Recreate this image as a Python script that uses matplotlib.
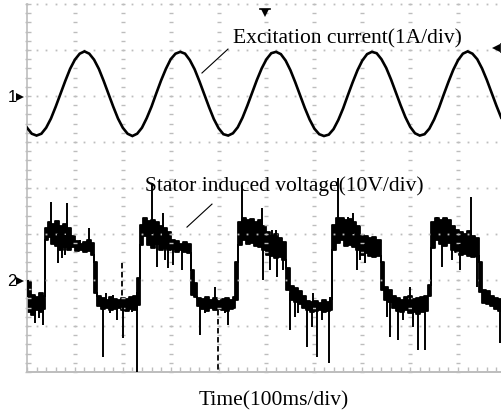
import numpy as np
import matplotlib
matplotlib.use("Agg")
import matplotlib.pyplot as plt

# ---------------- scope settings ----------------
ms_per_div = 100          # time base
n_hdiv, n_vdiv = 10, 8
ch1_ground = 2.0          # channel 1 reference level (div)
ch2_ground = -2.0         # channel 2 reference level (div)
ch1_scale = 1.0           # A/div
ch2_scale = 10.0          # V/div
t_view = 991.7            # visible part of the record (ms)

# ---------------- channel 1: excitation current (A), 10 ms samples ----------------
ch1_t = np.arange(0, 1000, 10)
ch1_current = [
    -0.69, -0.82,
    -0.86, -0.82, -0.69, -0.49, -0.23, 0.05, 0.33, 0.59, 0.79, 0.92,
    0.97, 0.92, 0.79, 0.59, 0.33, 0.05, -0.23, -0.49, -0.69, -0.82,
    -0.87, -0.82, -0.69, -0.48, -0.23, 0.06, 0.34, 0.59, 0.80, 0.92,
    0.96, 0.92, 0.78, 0.58, 0.32, 0.04, -0.24, -0.50, -0.70, -0.83,
    -0.86, -0.81, -0.68, -0.47, -0.21, 0.07, 0.35, 0.60, 0.80, 0.93,
    0.96, 0.91, 0.77, 0.56, 0.30, 0.02, -0.26, -0.51, -0.71, -0.83,
    -0.87, -0.84, -0.72, -0.52, -0.27, 0.02, 0.30, 0.56, 0.77, 0.91,
    0.96, 0.93, 0.80, 0.61, 0.36, 0.08, -0.20, -0.46, -0.67, -0.81,
    -0.86, -0.83, -0.71, -0.51, -0.26, 0.03, 0.31, 0.57, 0.78, 0.92,
    0.97, 0.92, 0.80, 0.60, 0.35, 0.07, -0.21, -0.47,
]

# ---------------- channel 2: stator induced voltage (V) ----------------
# upper / lower edge of the noisy trace (ms, V)
ch2_t = [
    0, 8, 17, 25, 33,
    38, 44, 50, 58, 67, 75, 84, 92, 100, 109, 117, 125, 134,
    140, 146, 154, 163, 171, 180, 188, 196, 205, 213, 221,
    230, 236, 242, 251, 259, 267, 276, 284, 292, 301, 309, 317, 326, 334,
    342, 349, 355, 363, 372, 380, 388, 397, 405, 413, 422, 430,
    434, 441, 449, 457, 466, 474, 482, 491, 499, 507, 516, 524, 532,
    541, 549, 557, 566, 574, 582, 591, 599, 608, 616, 624, 633,
    637, 645, 653, 662, 670, 679, 687, 695, 704, 712, 720, 729,
    739, 745, 754, 762, 770, 779, 787, 795, 804, 812, 820, 829, 837,
    843, 852, 860, 868, 877, 885, 894, 902, 910, 919, 927, 935,
    944, 950, 958, 967, 975, 983, 992,
]
ch2_hi = [
    -0.4, -3.3, -3.7, -2.8, -3.5,
    11.3, 12.6, 12.2, 12.8, 11.7, 12.2, 11.3, 9.6, 8.5, 7.8, 8.3, 8.7, 8.0,
    3.9, -3.5, -3.9, -4.3, -3.7, -4.1, -4.3, -3.9, -4.1, -3.7, -3.5,
    0.4, 12.0, 13.5, 12.8, 13.0, 12.6, 11.7, 11.3, 10.4, 8.7, 8.5, 7.8, 8.3, 7.8,
    2.2, -0.7, -3.9, -4.1, -3.7, -4.3, -3.9, -4.6, -4.1, -3.9, -4.3, -3.7,
    3.9, 12.6, 13.5, 13.0, 13.3, 12.6, 13.0, 11.7, 10.4, 9.6, 10.0, 9.1, 8.3,
    2.6, -1.3, -1.7, -2.4, -3.5, -4.6, -4.8, -4.6, -5.0, -4.3, -4.8, -4.1,
    12.0, 13.5, 13.5, 13.0, 13.3, 12.6, 11.7, 9.8, 9.6, 9.1, 9.3, 8.7,
    3.9, -1.5, -2.2, -3.5, -3.9, -4.3, -3.7, -3.5, -4.1, -3.9, -3.7, -3.5, -1.1,
    12.6, 13.5, 13.0, 13.5, 13.0, 11.7, 10.9, 10.4, 10.0, 10.7, 9.6, 9.1,
    3.9, -2.2, -2.4, -3.5, -3.9, -4.1, -4.1,
]
ch2_lo = [
    -7.0, -7.6, -6.5, -7.0, -6.3,
    8.7, 9.3, 7.8, 7.4, 6.5, 7.2, 6.5, 7.2, 6.3, 6.5, 6.1, 6.3, 5.4,
    -2.8, -5.7, -6.3, -6.1, -6.5, -6.3, -6.1, -6.5, -6.7, -6.3, -6.5,
    -5.4, 7.6, 9.6, 7.6, 7.0, 7.8, 6.5, 7.0, 6.5, 6.7, 6.1, 6.5, 6.1, 5.9,
    -3.3, -3.7, -5.7, -6.3, -6.7, -6.1, -6.5, -6.3, -6.5, -6.7, -6.3, -6.1,
    -4.3, 7.6, 8.7, 7.8, 8.0, 7.4, 7.2, 6.5, 5.4, 5.2, 4.8, 5.0, 4.3,
    -2.2, -4.3, -4.8, -5.2, -6.1, -6.5, -7.0, -6.7, -6.5, -7.0, -6.7, -6.5,
    6.5, 8.0, 8.7, 7.4, 7.6, 7.2, 6.5, 5.4, 5.9, 5.2, 5.0, 5.2,
    -2.2, -4.3, -4.8, -6.1, -6.7, -7.0, -6.5, -7.2, -7.0, -7.4, -7.0, -6.7, -3.5,
    7.0, 8.7, 7.8, 7.4, 8.0, 6.5, 6.1, 5.4, 5.7, 5.2, 5.0, 5.2,
    -2.6, -5.0, -5.2, -5.7, -6.3, -6.7, -6.7,
]

# individual glitches: time (ms) and the voltage each one reaches
spike_t = [2, 17, 25, 33, 50, 84, 65, 73, 79, 129, 111, 159, 173, 188, 200, 219, 230, 165, 180,
           261, 284, 271, 289, 294, 305, 324, 361, 372, 393, 420, 413,
           449, 491, 493, 507, 522, 535, 512, 520, 549, 560, 566, 576, 585, 595, 605, 616, 631, 597, 633,
           649, 670, 681, 689, 695, 706, 752, 758, 775, 785, 806, 816, 831, 800,
           856, 877, 866, 887, 904, 927, 940, 988]
spike_v = [0.0, -9.3, -8.3, -9.8, 17.0, 16.7, 3.7, 4.8, 5.4, 11.3, 8.7, -16.7, -7.2, -8.7, -12.6, -7.0, -20.0, -2.8, -3.3,
           21.1, 14.6, 2.8, 4.3, 2.6, 3.3, 2.2, -12.0, -7.2, -1.5, -9.8, -7.2,
           20.6, 15.7, 0.0, 2.2, 0.7, 2.2, 10.9, 10.9, -10.9, -8.0, -7.2, -5.9, -14.6, -10.2, -16.7, -8.7, -18.0, -2.8, -3.7,
           22.2, 13.7, 14.6, 2.2, 4.3, 3.7, -8.0, -12.4, -13.0, -8.7, -10.2, -15.2, -15.2, -1.5,
           13.7, 13.5, 2.8, 4.3, 2.2, 18.0, -1.5, -13.7]
# two glitches drawn broken (dashed) by the display
dash_t = [198, 399]
dash_v0 = [3.7, -6.5]
dash_v1 = [-3.7, -20.0]

grid_color = "#bdbdbd"
serif = ["Liberation Serif", "DejaVu Serif"]

fig = plt.figure(figsize=(5.02, 4.17), dpi=100)
fig.patch.set_facecolor("white")
W, H = 502, 417
x0_px, top_px, bot_px = 27, 4, 372
ax = fig.add_axes([x0_px / W, (H - bot_px) / H, (W - x0_px) / W, (bot_px - top_px) / H])
ax.set_xlim(0, t_view)
ax.set_ylim(-n_vdiv / 2, n_vdiv / 2)
ax.axis("off")

# ---------------- graticule ----------------
minor_t = np.arange(0, 1001, ms_per_div / 5)
minor_v = np.arange(-4, 4.01, 0.2)
for k in range(-3, 5):
    ax.plot(minor_t, np.full_like(minor_t, k, dtype=float), ls="none", marker="s",
            ms=1.3, mew=0, color=grid_color, clip_on=False)
for j in range(1, n_hdiv):
    ax.plot(np.full_like(minor_v, j * ms_per_div), minor_v, ls="none", marker="_",
            ms=3.0, mew=1.0, color=grid_color, clip_on=False)
# left and bottom frame with ticks
ax.plot([0, 0], [-4, 4], color=grid_color, lw=1.2, clip_on=False)
ax.plot([0, 1000], [-4, -4], color=grid_color, lw=1.4, clip_on=False)
ax.plot(np.full_like(minor_v, 2.0), minor_v, ls="none", marker="_", ms=4.0, mew=1.0,
        color=grid_color, clip_on=False)
ax.plot(minor_t, np.full_like(minor_t, -3.93, dtype=float), ls="none", marker="|", ms=2.5,
        mew=1.0, color=grid_color, clip_on=False)

# ---------------- channel 1 ----------------
ch1_div = ch1_ground + np.asarray(ch1_current) / ch1_scale
ax.plot(ch1_t, ch1_div, color="black", lw=1.9, solid_joinstyle="miter")

# ---------------- channel 2 ----------------
t2 = np.asarray(ch2_t, float)
hi2 = ch2_ground + np.asarray(ch2_hi) / ch2_scale
lo2 = ch2_ground + np.asarray(ch2_lo) / ch2_scale
ax.fill_between(t2, lo2, hi2, step="post", facecolor="black", edgecolor="black", lw=1.3)

st = np.asarray(spike_t, float)
idx = np.clip(np.searchsorted(t2, st, side="right") - 1, 0, len(t2) - 1)
base = (hi2[idx] + lo2[idx]) / 2
ax.vlines(st, base, ch2_ground + np.asarray(spike_v) / ch2_scale, color="black", lw=1.4)
ax.vlines(dash_t, ch2_ground + np.asarray(dash_v0) / ch2_scale,
          ch2_ground + np.asarray(dash_v1) / ch2_scale, color="black", lw=1.3,
          linestyles=(0, (3, 2)))

# ---------------- annotations ----------------
ax.text(430, 3.15, "Excitation current(1A/div)", family=serif, fontsize=15.5,
        va="baseline", ha="left")
ax.plot([419.6, 365.3], [3.02, 2.50], color="black", lw=0.8)
ax.text(246, -0.07, "Stator induced voltage(10V/div)", family=serif, fontsize=15.5,
        va="baseline", ha="left")
ax.plot([386.2, 334.0], [-0.35, -0.85], color="black", lw=0.8)

fig.text(274 / W, 1 - 405 / H, "Time(100ms/div)", family=serif, fontsize=15.5,
         va="baseline", ha="center")

# channel reference markers
for label, lvl in (("1", ch1_ground), ("2", ch2_ground)):
    ypx = 188 - lvl * 46
    fig.text(12 / W, 1 - (ypx + 1) / H, label, fontsize=12, ha="center", va="center",
             family=["Liberation Sans", "DejaVu Sans"])
    fig.add_artist(plt.Line2D([20 / W], [1 - (ypx + 1) / H], marker=">", ms=5.5,
                              color="black", mew=0))
# trigger position (top) and trigger level (right)
fig.add_artist(plt.Line2D([265 / W], [1 - 13 / H], marker="v", ms=5.5, color="black", mew=0))
fig.add_artist(plt.Line2D([260 / W, 270 / W], [1 - 9 / H, 1 - 9 / H], color="black", lw=1.2))
fig.add_artist(plt.Line2D([496 / W], [1 - 48 / H], marker="<", ms=6, color="black", mew=0))
fig.add_artist(plt.Line2D([501 / W, 501 / W], [1 - 44 / H, 1 - 52 / H], color="black", lw=1.2))

fig.savefig("out.png", dpi=100, facecolor="white")
